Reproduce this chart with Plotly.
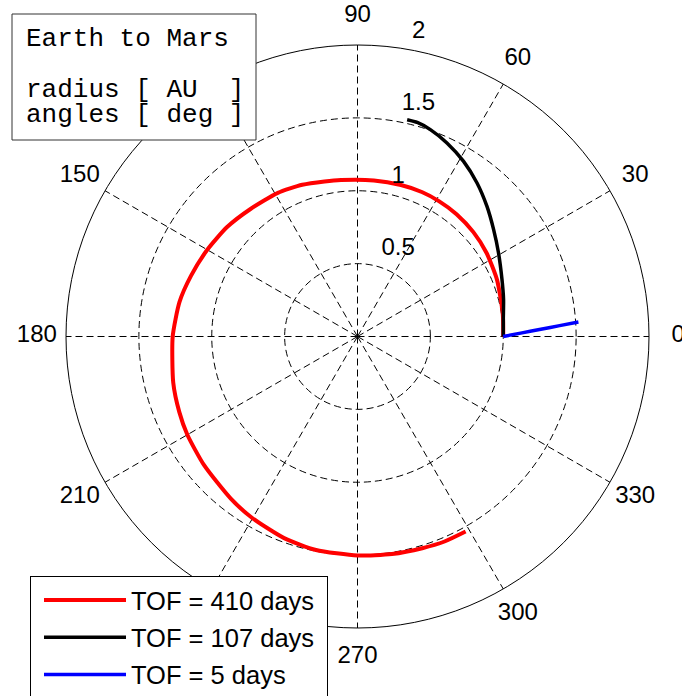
import plotly.graph_objects as go

# Transfer trajectories: polar angle [deg] and heliocentric radius [AU]
tof410_theta = [0, 9, 22, 33, 42, 51, 59, 66, 74, 84, 96, 102, 110, 119, 130, 140,
                150, 160, 169, 180, 194, 203, 210, 220, 232, 240, 250, 259, 270,
                279, 287, 293, 299]
tof410_r = [1.000, 1.009, 1.033, 1.055, 1.070, 1.080, 1.084, 1.085, 1.081, 1.077,
            1.080, 1.088, 1.108, 1.127, 1.142, 1.168, 1.190, 1.216, 1.244, 1.268,
            1.303, 1.328, 1.348, 1.374, 1.412, 1.440, 1.472, 1.492, 1.503, 1.511,
            1.519, 1.528, 1.530]

tof107_theta = [0, 7, 14.3, 21.6, 30.7, 38.2, 45.2, 52.1, 58.8, 65.2, 70.6, 74.4, 77.1]
tof107_r = [1.000, 1.008, 1.034, 1.066, 1.125, 1.188, 1.260, 1.335, 1.405, 1.463,
            1.505, 1.525, 1.526]

tof5_theta = [0, 1.26, 2.26, 3.08, 3.75]
tof5_r = [1.000, 1.129, 1.259, 1.389, 1.519]

series_names = ["TOF = 410 days", "TOF = 107 days", "TOF = 5 days"]
series_colors = ["#ff0000", "#000000", "#0000ff"]

angle_ticks = list(range(0, 360, 30))
# 120 and 240 sit underneath the info box and the legend
angle_labels_shown = [a for a in angle_ticks if a not in (120, 240)]
radius_ticks = [0.5, 1.0, 1.5, 2.0]
r_max = 2.0
r_label = 1.1 * r_max

W, H = 682, 696
CX, CY, R_PX = 357.5, 336.5, 291.5   # plot centre and rim radius in pixels

def domain(radius_px):
    return dict(x=[(CX - radius_px) / W, (CX + radius_px) / W],
                y=[1 - (CY + radius_px) / H, 1 - (CY - radius_px) / H])

sans = "Liberation Sans, Arial, Helvetica, sans-serif"
mono = "Liberation Mono, DejaVu Sans Mono, monospace"

fig = go.Figure()

for name, th, r, col, w in zip(series_names,
                               [tof410_theta, tof107_theta, tof5_theta],
                               [tof410_r, tof107_r, tof5_r],
                               series_colors, [4, 3.5, 3.5]):
    fig.add_trace(go.Scatterpolar(
        r=r, theta=th, mode="lines", name=name + "\u00a0", legendgroup=name,
        line=dict(color=col, width=w, shape="spline", smoothing=0.6),
        subplot="polar",
    ))

# angle labels at 1.1 * r_max, on an overlay sharing the same centre and scale
fig.add_trace(go.Scatterpolar(
    r=[r_label] * len(angle_labels_shown), theta=angle_labels_shown, mode="text",
    text=[str(a) for a in angle_labels_shown], textposition="middle center",
    textfont=dict(family=sans, size=24, color="black"),
    cliponaxis=False, showlegend=False, hoverinfo="skip", subplot="polar2",
))

# radius labels along the 82 degree ray
fig.add_trace(go.Scatterpolar(
    r=[v + r_max / 4 / 20 for v in radius_ticks], theta=[82] * len(radius_ticks),
    mode="text", text=["\u00a0\u00a0" + f"{v:g}" for v in radius_ticks],
    textposition="top right",
    textfont=dict(family=sans, size=24, color="black"),
    cliponaxis=False, showlegend=False, hoverinfo="skip", subplot="polar2",
))

dash = "7px,4px"
fig.update_layout(
    width=W, height=H, autosize=False,
    margin=dict(l=0, r=0, t=0, b=0, autoexpand=False),
    paper_bgcolor="white",
    polar=dict(
        domain=domain(R_PX),
        bgcolor="white",
        radialaxis=dict(range=[0, r_max], tickvals=radius_ticks[:-1],
                        showticklabels=False, ticks="", showline=False,
                        showgrid=True, gridcolor="black", gridwidth=0.7,
                        griddash=dash, angle=82),
        angularaxis=dict(tickvals=angle_ticks, showticklabels=False, ticks="",
                         direction="counterclockwise", rotation=0,
                         showline=True, linecolor="black", linewidth=1,
                         showgrid=True, gridcolor="black", gridwidth=0.7,
                         griddash=dash),
    ),
    polar2=dict(
        domain=domain(R_PX * r_label / r_max),
        bgcolor="rgba(0,0,0,0)",
        radialaxis=dict(range=[0, r_label], visible=False),
        angularaxis=dict(visible=False, direction="counterclockwise", rotation=0),
    ),
    legend=dict(x=30 / W, y=1 - 576 / H, xanchor="left", yanchor="top",
                bgcolor="white", bordercolor="black", borderwidth=1,
                font=dict(family=sans, size=25.5, color="black"),
                itemwidth=82, indentation=8, tracegroupgap=1),
    showlegend=True,
)

# info box in the upper-left corner
fig.add_shape(type="rect", xref="paper", yref="paper",
              x0=12 / W, x1=256 / W, y0=1 - 140 / H, y1=1 - 14 / H,
              line=dict(color="#333333", width=1), fillcolor="white",
              layer="above")
for txt, y_mid in [("Earth to Mars", 38.8),
                   ("radius [ AU  ]", 89.8),
                   ("angles [ deg ]", 114.8)]:
    fig.add_annotation(xref="paper", yref="paper", x=24 / W, y=1 - y_mid / H,
                       xanchor="left", yanchor="middle", showarrow=False,
                       text=txt.replace(" ", "\u00a0"),
                       font=dict(family=mono, size=26, color="black"))

fig.write_html("out.html")
